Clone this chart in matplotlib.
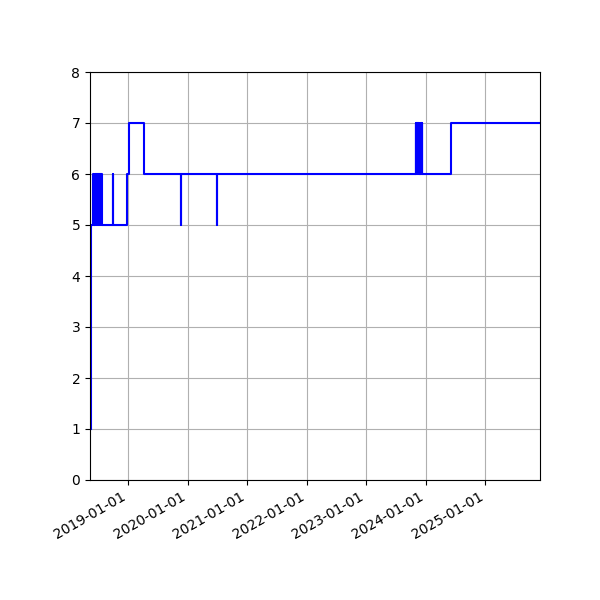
import matplotlib
matplotlib.use('Agg')
import matplotlib.pyplot as plt
import matplotlib.dates as mdates
import numpy as np

# change points: (date, value) -- value holds until the next date
dates = ['2018-05-19', '2018-05-21', '2018-05-29',
         '2018-06-03', '2018-06-05', '2018-06-08', '2018-06-10', '2018-06-16',
         '2018-06-18', '2018-06-21', '2018-06-23', '2018-06-30', '2018-07-02',
         '2018-07-05', '2018-07-07', '2018-07-11', '2018-07-13', '2018-07-17',
         '2018-07-19', '2018-07-22', '2018-07-24',
         '2018-09-28', '2018-09-30',
         '2018-12-28', '2019-01-07', '2019-04-09',
         '2019-11-22', '2019-11-23',
         '2020-06-28', '2020-06-29',
         '2023-11-01', '2023-11-03', '2023-11-05', '2023-11-08', '2023-11-10',
         '2023-11-13', '2023-11-15', '2023-11-18', '2023-11-20', '2023-11-23',
         '2023-11-25', '2023-11-28', '2023-11-30', '2023-12-03', '2023-12-05',
         '2023-12-08', '2023-12-10', '2023-12-12',
         '2024-06-05', '2025-12-02']
values = [1, 5, 6,
          5, 6, 5, 6, 5,
          6, 5, 6, 5, 6,
          5, 6, 5, 6, 5,
          6, 5, 5,
          6, 5,
          6, 7, 6,
          5, 6,
          5, 6,
          7, 6, 7, 6, 7,
          6, 7, 6, 7, 6,
          7, 6, 7, 6, 7,
          6, 7, 6,
          7, 7]

x = np.array(dates, dtype='datetime64[D]')

fig, ax = plt.subplots(figsize=(6, 6), dpi=100)
ax.step(x, values, 'b-', where='post', linewidth=1.5)
ax.set_xlim(np.datetime64('2018-05-12'), x[-1])
ax.set_ylim(0, 8)
ax.xaxis.set_major_locator(mdates.YearLocator())
ax.xaxis.set_major_formatter(mdates.DateFormatter('%Y-%m-%d'))
ax.grid(True)
fig.autofmt_xdate()
fig.subplots_adjust(left=0.15, right=0.9, top=0.88, bottom=0.2)
fig.savefig('out.png')
